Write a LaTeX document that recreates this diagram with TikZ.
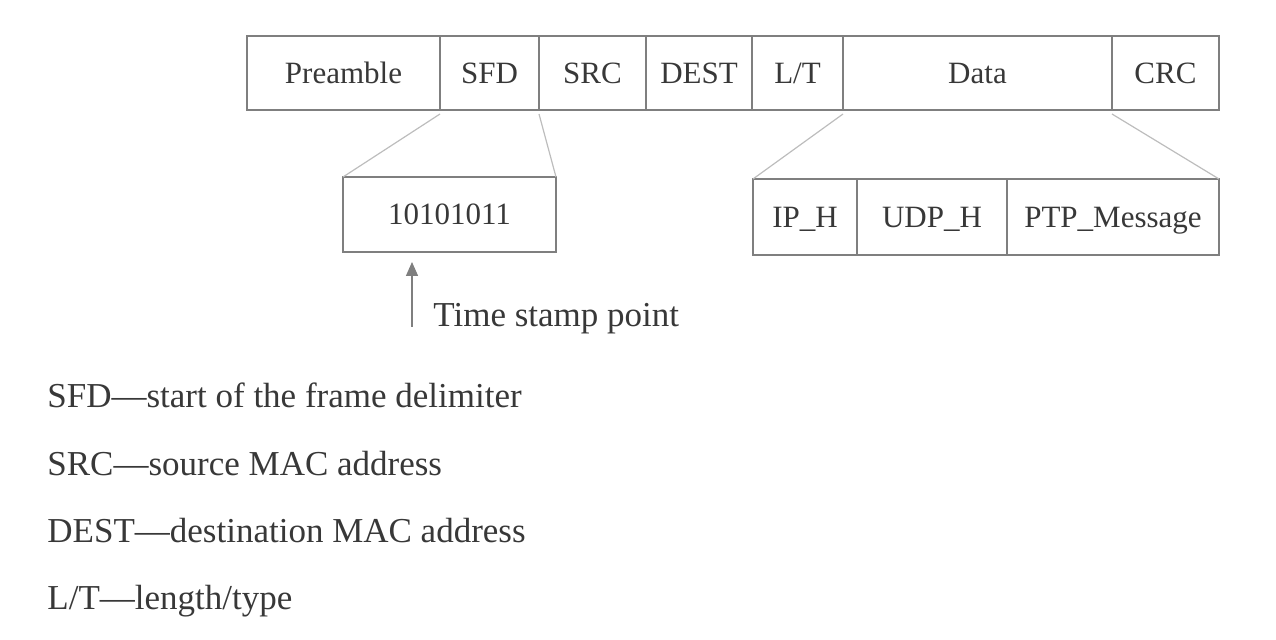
\documentclass[tikz,border=0pt]{standalone}
\usepackage{fontspec}
\setmainfont{Liberation Serif}
\usetikzlibrary{arrows.meta}
\definecolor{boxgray}{HTML}{7F7F7F}
\definecolor{textgray}{HTML}{383838}
\definecolor{linkgray}{HTML}{BDBDBD}
\tikzset{
  field/.style={draw=boxgray, line width=1pt, inner sep=0pt, outer sep=0pt, anchor=west,
    text=textgray, font=\fontsize{15.5}{18}\selectfont, text height=10.3pt, text depth=0pt},
  link/.style={draw=linkgray, line width=0.6pt},
  stamparrow/.style={draw=boxgray, line width=0.7pt, -{Triangle[width=6pt,length=7pt]}},
  legend/.style={anchor=base west, inner sep=0pt, text=textgray, font=\fontsize{17.5}{21}\selectfont}
}
\begin{document}
\begin{tikzpicture}[x=0.5pt,y=-0.5pt]
\useasboundingbox (0,0) rectangle (1276,640);
% ethernet frame
\node [field, minimum width=96.5pt, minimum height=37pt] (pre) at (247,73) {Preamble};
\node [field, minimum width=49.5pt, minimum height=37pt] (sfd) at (440,73) {SFD};
\node [field, minimum width=53.5pt, minimum height=37pt] (src) at (539,73) {SRC};
\node [field, minimum width=53pt, minimum height=37pt] (dest) at (646,73) {DEST};
\node [field, minimum width=45.5pt, minimum height=37pt] (lt) at (752,73) {L/T};
\node [field, minimum width=134.5pt, minimum height=37pt] (data) at (843,73) {Data};
\node [field, minimum width=53.5pt, minimum height=37pt] (crc) at (1112,73) {CRC};
% SFD bits
\node [field, minimum width=106.5pt, minimum height=37.5pt] (bits) at (343,214.5) {10101011};
% data contents
\node [field, minimum width=52pt, minimum height=38pt] (iph) at (753,217) {IP\_H};
\node [field, minimum width=75pt, minimum height=38pt] (udph) at (857,217) {UDP\_H};
\node [field, minimum width=106pt, minimum height=38pt] (ptp) at (1007,217) {PTP\_Message};
% zoom lines
\draw [link] ([yshift=-2pt]sfd.south west) -- (bits.north west);
\draw [link] ([yshift=-2pt]sfd.south east) -- (bits.north east);
\draw [link] ([yshift=-2pt]data.south west) -- (iph.north west);
\draw [link] ([yshift=-2pt]data.south east) -- (ptp.north east);
% time stamp
\coordinate (stamp) at (412,327);
\draw [stamparrow] (stamp) -- ([yshift=-5pt]bits.south -| stamp);
\node [legend] (tsp) at (433,327) {Time stamp point};
% legend
\node [legend] (legsfd) at (47,408) {SFD—start of the frame delimiter};
\node [legend] (legsrc) at (47,476) {SRC—source MAC address};
\node [legend] (legdest) at (47,543) {DEST—destination MAC address};
\node [legend] (leglt) at (47,610) {L/T—length/type};
\end{tikzpicture}
\end{document}
